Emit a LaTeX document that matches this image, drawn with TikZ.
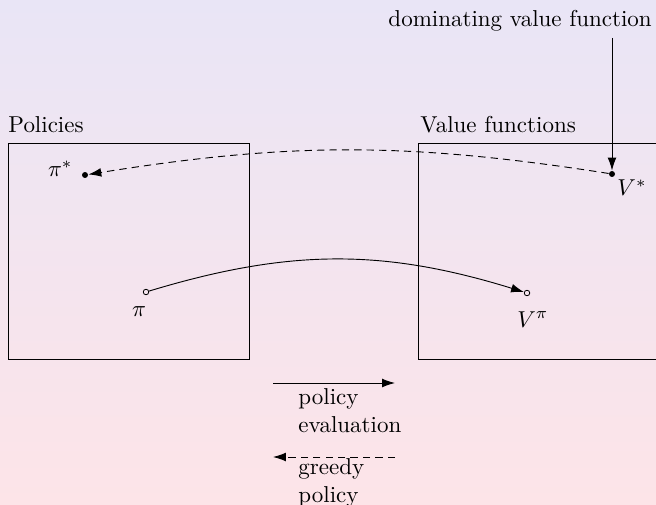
\documentclass[tikz,border=0pt]{standalone}
\usetikzlibrary{arrows.meta}
\begin{document}
\begin{tikzpicture}[x=0.4348pt,y=-0.4348pt,
  tip/.style={-{Latex[length=5.6pt,width=3.8pt]}},
  dsh/.style={dash pattern=on 3.2pt off 2.2pt},
  filldot/.style={circle,fill=black,inner sep=0pt,minimum size=2.6pt},
  opendot/.style={circle,draw=black,fill=none,inner sep=0pt,minimum size=2.4pt,line width=0.35pt},
  region/.style={draw=black,line width=0.4pt},
  lbl/.style={inner sep=0pt,anchor=base west}]
\shade[top color={rgb,255:red,233;green,229;blue,246},bottom color={rgb,255:red,253;green,228;blue,232}] (0,0) rectangle (656,505);
\useasboundingbox (0,0) rectangle (656,505);
\begin{scope}
\clip (0,0) rectangle (656,505);
\draw[region] (8,143) rectangle (249,359);
\draw[region] (418,143) rectangle (680,359);
\end{scope}
\node[lbl] (pol) at (8,133) {Policies};
\node[lbl] (vf) at (420,133) {Value functions};
\node[lbl] (dvf) at (388,27) {dominating value function};
\node[filldot] (ps) at (85,175) {};
\node[inner sep=0pt,anchor=base east] (psl) at (73,177) {$\pi^*$};
\node[filldot] (vs) at (612,174) {};
\node[inner sep=0pt,anchor=base west] (vsl) at (617,196) {$V^*$};
\node[opendot] (p) at (146,292) {};
\node[inner sep=0pt,anchor=base] (pl) at (139,317) {$\pi$};
\node[opendot] (vp) at (527,293) {};
\node[inner sep=0pt,anchor=base west] (vpl) at (517,327) {$V^\pi$};
\coordinate (top) at (612,38);
\draw[tip,line width=0.4pt] (top) -- (vs);
\draw[tip,dsh,line width=0.4pt] (vs) to[bend right=9] (ps);
\draw[tip,line width=0.4pt] (p) to[bend left=17] (vp);
\coordinate (a1) at (273,383);
\coordinate (a2) at (395,383);
\draw[tip,line width=0.4pt] (a1) -- (a2);
\node[inner sep=0pt,anchor=base west,align=left] (pe) at (298,432) {policy\\evaluation};
\coordinate (b1) at (395,457);
\coordinate (b2) at (273,457);
\draw[tip,dsh,line width=0.4pt] (b1) -- (b2);
\node[inner sep=0pt,anchor=base west,align=left] (gp) at (298,502) {greedy\\policy};
\end{tikzpicture}
\end{document}
